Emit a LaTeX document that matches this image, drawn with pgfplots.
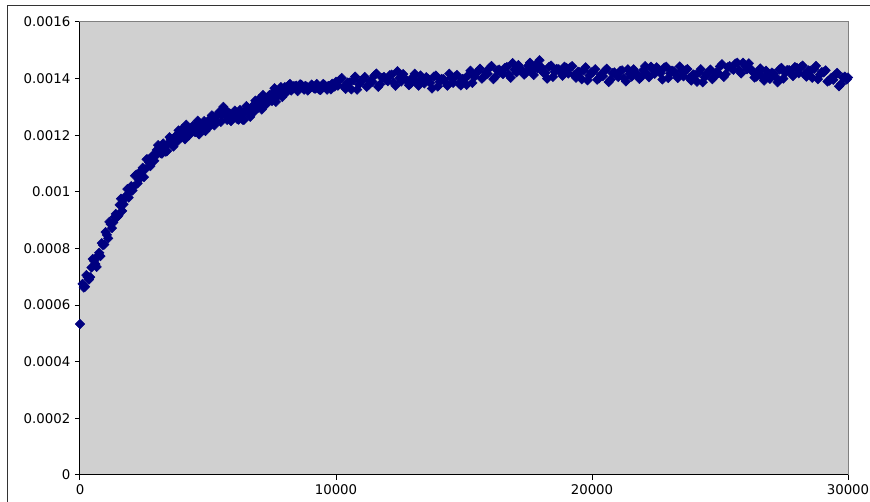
\documentclass[border=0pt]{standalone}
\usepackage{pgfplots}
\pgfplotsset{compat=1.18}
\usepackage{fontspec}
\setmainfont{DejaVu Sans}
\definecolor{plotbg}{RGB}{208,208,208}
\definecolor{navymark}{RGB}{0,0,128}
\pgfplotsset{dmd/.style={only marks, mark=square*, mark size=2.5pt,
  mark options={rotate=45, fill=navymark, draw=navymark}}}
\begin{document}
\begin{tikzpicture}
\begin{axis}[
  name=ax,
  scale only axis, width=576pt, height=339.75pt,
  xmin=0, xmax=30000, ymin=0, ymax=0.0016,
  xtick={0,10000,20000,30000},
  ytick={0,0.0002,0.0004,0.0006,0.0008,0.001,0.0012,0.0014,0.0016},
  scaled x ticks=false, scaled y ticks=false,
  xticklabel style={/pgf/number format/1000 sep={}},
  yticklabel style={/pgf/number format/.cd, fixed, precision=4},
  /pgf/number format/assume math mode=true,
  tick label style={font=\fontsize{10}{12}\selectfont},
  tick align=outside, major tick length=3.75pt,
  xtick pos=bottom, ytick pos=left,
  tick style={black, line width=0.75pt},
  axis background/.style={fill=plotbg},
  axis line style={draw=gray, line width=0.75pt},
  clip=false,
]
\addplot[dmd] coordinates {
(0,0.000533)
(100,0.000675) (200,0.000665) (300,0.000699) (400,0.000699) (500,0.000763)
(600,0.000745) (700,0.000774) (800,0.000773) (900,0.000812) (1000,0.000858)
(1100,0.000836) (1200,0.000886) (1300,0.000892) (1400,0.000922) (1500,0.000916)
(1600,0.000976) (1700,0.000956) (1800,0.000986) (1900,0.000980) (2000,0.001020)
(2100,0.001018) (2200,0.001061) (2300,0.001043) (2400,0.001075) (2500,0.001052)
(2600,0.001115) (2700,0.001104) (2800,0.001123) (2900,0.001110) (3000,0.001148)
(3100,0.001155) (3200,0.001135) (3300,0.001159) (3400,0.001144) (3500,0.001193)
(3600,0.001175) (3700,0.001194) (3800,0.001178) (3900,0.001202) (4000,0.001223)
(4100,0.001186) (4200,0.001221) (4300,0.001212) (4400,0.001232) (4500,0.001211)
(4600,0.001251) (4700,0.001221) (4800,0.001231) (4900,0.001215) (5000,0.001250)
(5100,0.001238) (5200,0.001266) (5300,0.001248) (5400,0.001275) (5500,0.001247)
(5600,0.001300) (5700,0.001274) (5800,0.001278) (5900,0.001250) (6000,0.001273)
(6100,0.001275) (6200,0.001255) (6300,0.001274) (6400,0.001254) (6500,0.001303)
(6600,0.001280) (6700,0.001299) (6800,0.001283) (6900,0.001307) (7000,0.001328)
(7100,0.001291) (7200,0.001326) (7300,0.001322) (7400,0.001342) (7500,0.001321)
(7600,0.001366) (7700,0.001336) (7800,0.001351) (7900,0.001335) (8000,0.001370)
(8100,0.001358) (8200,0.001381) (8300,0.001364) (8400,0.001373) (8500,0.001356)
(8600,0.001380) (8700,0.001369) (8800,0.001374) (8900,0.001358) (9000,0.001372)
(9100,0.001372) (9200,0.001365) (9300,0.001372) (9400,0.001360) (9500,0.001381)
(9600,0.001372) (9700,0.001374) (9800,0.001362) (9900,0.001376) (10000,0.001389)
(10150,0.001396) (10300,0.001372) (10450,0.001386) (10600,0.001362) (10750,0.001407)
(10900,0.001380) (11050,0.001395) (11200,0.001371) (11350,0.001392) (11500,0.001411)
(11650,0.001371) (11800,0.001403) (11950,0.001396) (12100,0.001412) (12250,0.001386)
(12400,0.001426) (12550,0.001390) (12700,0.001399) (12850,0.001377) (13000,0.001405)
(13150,0.001388) (13300,0.001411) (13450,0.001383) (13600,0.001399) (13750,0.001365)
(13900,0.001411) (14050,0.001389) (14200,0.001398) (14350,0.001375) (14500,0.001403)
(14650,0.001407) (14800,0.001383) (14950,0.001399) (15100,0.001378) (15250,0.001428)
(15400,0.001406) (15550,0.001425) (15700,0.001400) (15850,0.001421) (16000,0.001438)
(16150,0.001398) (16300,0.001429) (16450,0.001422) (16600,0.001438) (16750,0.001414)
(16900,0.001455) (17050,0.001422) (17200,0.001433) (17350,0.001414) (17500,0.001445)
(17650,0.001427) (17800,0.001448) (17950,0.001465) (18100,0.001421) (18250,0.001400)
(18400,0.001446) (18550,0.001424) (18700,0.001433) (18850,0.001410) (19000,0.001438)
(19150,0.001439) (19300,0.001412) (19450,0.001425) (19600,0.001398) (19750,0.001440)
(19900,0.001411) (20050,0.001424) (20200,0.001396) (20350,0.001414) (20500,0.001428)
(20650,0.001388) (20800,0.001419) (20950,0.001412) (21100,0.001427) (21250,0.001401)
(21400,0.001433) (21550,0.001407) (21700,0.001418) (21850,0.001399) (22000,0.001430)
(22150,0.001416) (22300,0.001442) (22450,0.001417) (22600,0.001433) (22750,0.001397)
(22900,0.001442) (23050,0.001419) (23200,0.001426) (23350,0.001402) (23500,0.001428)
(23650,0.001429) (23800,0.001402) (23950,0.001415) (24100,0.001389) (24250,0.001433)
(24400,0.001405) (24550,0.001420) (24700,0.001398) (24850,0.001422) (25000,0.001443)
(25150,0.001406) (25300,0.001440) (25450,0.001436) (25600,0.001453) (25750,0.001429)
(25900,0.001456) (26050,0.001433) (26200,0.001434) (26350,0.001404) (26500,0.001425)
(26650,0.001406) (26800,0.001428) (26950,0.001399) (27100,0.001417) (27250,0.001387)
(27400,0.001438) (27550,0.001420) (27700,0.001430) (27850,0.001409) (28000,0.001438)
(28150,0.001440) (28300,0.001415) (28450,0.001429) (28600,0.001403) (28750,0.001445)
(28900,0.001414) (29050,0.001422) (29200,0.001390) (29350,0.001403) (29500,0.001413)
(29650,0.001373) (29800,0.001404) (29950,0.001397) (30000,0.001404)
};
\addplot[dmd] coordinates {
(150,0.000662) (250,0.000706) (350,0.000690) (450,0.000733) (550,0.000756)
(650,0.000735) (750,0.000785) (850,0.000819) (950,0.000814) (1050,0.000848)
(1150,0.000894) (1250,0.000872) (1350,0.000911) (1450,0.000911) (1550,0.000954)
(1650,0.000933) (1750,0.000977) (1850,0.001010) (1950,0.001001) (2050,0.001005)
(2150,0.001057) (2250,0.001030) (2350,0.001068) (2450,0.001085) (2550,0.001080)
(2650,0.001115) (2750,0.001091) (2850,0.001129) (2950,0.001127) (3050,0.001165)
(3150,0.001137) (3250,0.001171) (3350,0.001142) (3450,0.001171) (3550,0.001186)
(3650,0.001160) (3750,0.001197) (3850,0.001217) (3950,0.001192) (4050,0.001206)
(4150,0.001237) (4250,0.001199) (4350,0.001226) (4450,0.001214) (4550,0.001239)
(4650,0.001203) (4750,0.001232) (4850,0.001250) (4950,0.001234) (5050,0.001230)
(5150,0.001270) (5250,0.001235) (5350,0.001270) (5450,0.001283) (5550,0.001270)
(5650,0.001293) (5750,0.001254) (5850,0.001277) (5950,0.001260) (6050,0.001287)
(6150,0.001257) (6250,0.001289) (6350,0.001255) (6450,0.001281) (6550,0.001294)
(6650,0.001265) (6750,0.001302) (6850,0.001322) (6950,0.001297) (7050,0.001311)
(7150,0.001342) (7250,0.001307) (7350,0.001336) (7450,0.001324) (7550,0.001352)
(7650,0.001318) (7750,0.001350) (7850,0.001370) (7950,0.001354) (8050,0.001350)
(8150,0.001376) (8250,0.001358) (8350,0.001373) (8450,0.001375) (8550,0.001366)
(8650,0.001378) (8750,0.001361) (8850,0.001372) (8950,0.001364) (9050,0.001379)
(9150,0.001365) (9250,0.001381) (9350,0.001361) (9450,0.001372) (9550,0.001378)
(9650,0.001361) (9750,0.001374) (9850,0.001382) (9950,0.001372)
(10075,0.001375) (10225,0.001402) (10375,0.001364) (10525,0.001386) (10675,0.001395)
(10825,0.001361) (10975,0.001392) (11125,0.001406) (11275,0.001378) (11425,0.001389)
(11575,0.001418) (11725,0.001380) (11875,0.001406) (12025,0.001391) (12175,0.001414)
(12325,0.001375) (12475,0.001402) (12625,0.001416) (12775,0.001393) (12925,0.001383)
(13075,0.001417) (13225,0.001375) (13375,0.001400) (13525,0.001405) (13675,0.001385)
(13825,0.001407) (13975,0.001372) (14125,0.001399) (14275,0.001387) (14425,0.001417)
(14575,0.001385) (14725,0.001413) (14875,0.001376) (15025,0.001399) (15175,0.001413)
(15325,0.001385) (15475,0.001420) (15625,0.001435) (15775,0.001407) (15925,0.001417)
(16075,0.001445) (16225,0.001406) (16375,0.001432) (16525,0.001416) (16675,0.001441)
(16825,0.001403) (16975,0.001432) (17125,0.001448) (17275,0.001429) (17425,0.001421)
(17575,0.001456) (17725,0.001413) (17875,0.001436) (18025,0.001440) (18175,0.001420)
(18325,0.001442) (18475,0.001406) (18625,0.001434) (18775,0.001422) (18925,0.001442)
(19075,0.001418) (19225,0.001444) (19375,0.001403) (19525,0.001423) (19675,0.001429)
(19825,0.001394) (19975,0.001422) (20125,0.001433) (20275,0.001401) (20425,0.001409)
(20575,0.001435) (20725,0.001396) (20875,0.001422) (21025,0.001406) (21175,0.001429)
(21325,0.001390) (21475,0.001417) (21625,0.001433) (21775,0.001414) (21925,0.001406)
(22075,0.001444) (22225,0.001405) (22375,0.001432) (22525,0.001440) (22675,0.001419)
(22825,0.001439) (22975,0.001402) (23125,0.001428) (23275,0.001414) (23425,0.001443)
(23575,0.001408) (23725,0.001434) (23875,0.001393) (24025,0.001413) (24175,0.001421)
(24325,0.001387) (24475,0.001417) (24625,0.001432) (24775,0.001406) (24925,0.001420)
(25075,0.001451) (25225,0.001416) (25375,0.001444) (25525,0.001431) (25675,0.001456)
(25825,0.001418) (25975,0.001445) (26125,0.001454) (26275,0.001424) (26425,0.001407)
(26575,0.001436) (26725,0.001393) (26875,0.001416) (27025,0.001421) (27175,0.001406)
(27325,0.001432) (27475,0.001400) (27625,0.001430) (27775,0.001420) (27925,0.001441)
(28075,0.001419) (28225,0.001446) (28375,0.001407) (28525,0.001428) (28675,0.001434)
(28825,0.001398) (28975,0.001423) (29125,0.001429) (29275,0.001393) (29425,0.001396)
(29575,0.001420) (29725,0.001381) (29875,0.001407)
};
\draw[black, line width=0.75pt] (rel axis cs:0,1) -- (rel axis cs:0,0) -- (rel axis cs:1,0);
\end{axis}
\pgfresetboundingbox
\path[use as bounding box] ([xshift=-60pt,yshift=-20.25pt]ax.south west) rectangle ([xshift=16.5pt,yshift=16.5pt]ax.north east);
\draw[black!80, line width=0.75pt] ([xshift=-54pt,yshift=-40pt]ax.south west) -- ([xshift=-54pt,yshift=12pt]ax.north west) -- ([xshift=40pt,yshift=12pt]ax.north east);
\end{tikzpicture}
\end{document}
